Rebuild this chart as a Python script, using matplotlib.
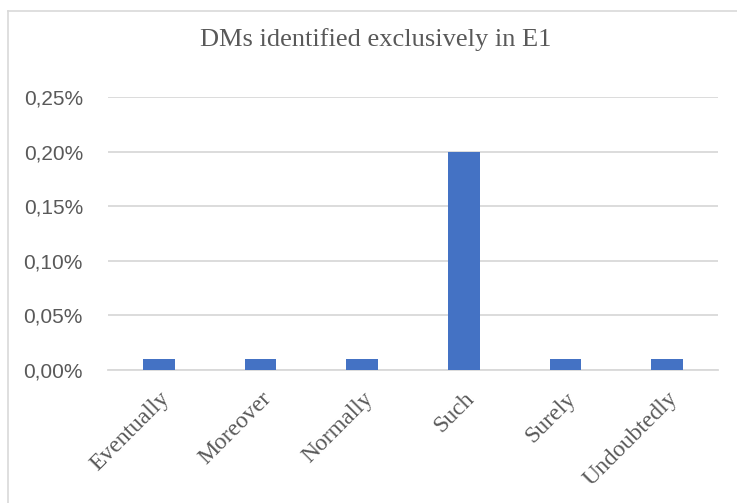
import matplotlib.pyplot as plt
from matplotlib.lines import Line2D
from matplotlib.ticker import FuncFormatter

# data (percent)
categories = ["Eventually", "Moreover", "Normally", "Such", "Surely", "Undoubtedly"]
values = [0.01, 0.01, 0.01, 0.20, 0.01, 0.01]
yticks = [0.00, 0.05, 0.10, 0.15, 0.20, 0.25]

txt = "#595959"
fig = plt.figure(figsize=(7.37, 5.03), dpi=100)
ax = fig.add_axes([108 / 737, 1 - 370 / 503, 610 / 737, 273 / 503])

ax.bar(range(len(categories)), values, width=0.31, color="#4472C4", zorder=3)
ax.set_xlim(-0.5, len(categories) - 0.5)
ax.set_ylim(0, 0.25)
ax.set_yticks(yticks)
ax.yaxis.set_major_formatter(FuncFormatter(lambda v, p: f"{v:.2f}%".replace(".", ",")))
ax.grid(axis="y", color="#D9D9D9", linewidth=1.3, zorder=0)
for s in ["top", "right", "left"]:
    ax.spines[s].set_visible(False)
ax.spines["bottom"].set_color("#D9D9D9")
ax.spines["bottom"].set_linewidth(1.3)

ax.set_xticks(range(len(categories)))
ax.set_xticklabels(categories, rotation=45, ha="right", rotation_mode="anchor",
                   family="Liberation Serif", fontsize=17, color=txt)
ax.tick_params(axis="x", length=0, pad=13)
ax.tick_params(axis="y", length=0, pad=18, labelcolor=txt, labelsize=15)
for lab in ax.get_yticklabels():
    lab.set_family("Liberation Sans")

fig.text(0.51, 1 - 40 / 503, "DMs identified exclusively in E1", ha="center", va="center",
         family="Liberation Serif", fontsize=19, color=txt)

# chart area border (only top and left visible)
fig.add_artist(Line2D([8 / 737, 1], [1 - 11 / 503, 1 - 11 / 503], color="#D9D9D9", lw=1.2))
fig.add_artist(Line2D([8 / 737, 8 / 737], [0, 1 - 11 / 503], color="#D9D9D9", lw=1.2))

fig.savefig("out.png", dpi=100)
